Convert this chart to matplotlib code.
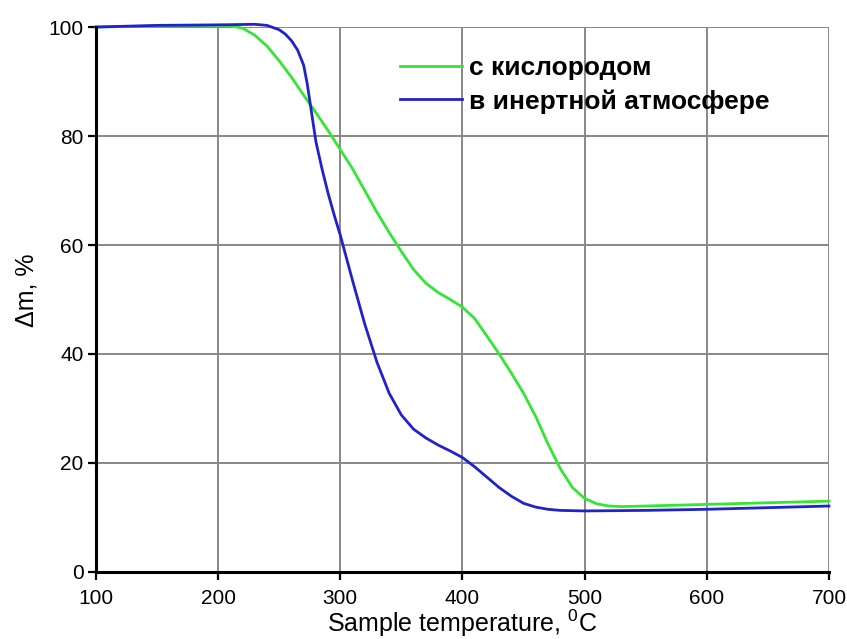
import matplotlib
matplotlib.use("Agg")
import matplotlib.pyplot as plt

plt.rcParams['font.family'] = ['Liberation Sans', 'DejaVu Sans']

# Green: with oxygen
x_ox = [100, 150, 200, 210, 220, 230, 240, 250, 260, 270, 280, 290, 300, 310, 320,
        330, 340, 350, 360, 370, 380, 390, 400, 410, 420, 430, 440, 450, 460, 470,
        480, 490, 500, 510, 520, 530, 550, 600, 650, 700]
y_ox = [100.0, 100.2, 100.3, 100.2, 99.8, 98.5, 96.5, 93.8, 90.8, 87.5, 84.3, 81.0,
        77.5, 74.0, 70.0, 66.0, 62.3, 58.8, 55.5, 53.0, 51.3, 50.0, 48.6, 46.5, 43.3,
        40.0, 36.5, 32.8, 28.5, 23.5, 19.0, 15.5, 13.5, 12.5, 12.1, 12.0, 12.1, 12.4,
        12.7, 13.0]

# Blue: inert atmosphere
x_in = [100, 150, 200, 230, 240, 250, 255, 260, 265, 270, 273, 276, 280, 285, 290,
        295, 300, 310, 320, 330, 340, 350, 360, 370, 380, 390, 400, 410, 420, 430,
        440, 450, 460, 470, 480, 500, 550, 600, 650, 700]
y_in = [100.0, 100.3, 100.4, 100.5, 100.3, 99.5, 98.7, 97.5, 95.8, 93.0, 89.5, 85.0,
        79.0, 74.0, 69.5, 65.5, 61.8, 53.5, 45.5, 38.5, 32.8, 28.8, 26.2, 24.6, 23.3,
        22.2, 21.0, 19.3, 17.4, 15.5, 13.9, 12.6, 11.9, 11.5, 11.3, 11.2, 11.3, 11.5,
        11.8, 12.1]

labels = ['с кислородом', 'в инертной атмосфере']
x_ticks = [100, 200, 300, 400, 500, 600, 700]
y_ticks = [0, 20, 40, 60, 80, 100]

fig = plt.figure(figsize=(8.47, 6.39), dpi=100)
ax = fig.add_axes([0.1133, 0.1049, 0.8654, 0.8528])

ax.plot(x_ox, y_ox, color='#33e633', lw=2.0, label=labels[0], zorder=3, clip_on=False)
ax.plot(x_in, y_in, color='#2222cc', lw=2.0, label=labels[1], zorder=3, clip_on=False)

ax.set_xlim(100, 700)
ax.set_ylim(0, 100)
ax.set_xticks(x_ticks)
ax.set_yticks(y_ticks)
ax.grid(True, color='#888888', lw=1.4)
ax.set_axisbelow(True)
for s in ['top', 'right']:
    ax.spines[s].set_visible(False)
for s in ['left', 'bottom']:
    ax.spines[s].set_linewidth(2.2)
    ax.spines[s].set_zorder(4)
ax.tick_params(axis='both', direction='out', length=6, width=1.6, labelsize=15, pad=3,
               colors='black')
ax.tick_params(axis='x', pad=6)

ax.set_xlabel('Sample temperature, $^{\\mathregular{0}}$C', fontsize=18,
              va='bottom')
ax.xaxis.set_label_coords(0.5, -0.123)
ax.set_ylabel('Δm, %', fontsize=18)
ax.yaxis.set_label_coords(-0.078, 0.517)

leg = ax.legend(loc='upper left', bbox_to_anchor=(0.415, 0.947), frameon=False,
                borderpad=0, borderaxespad=0,
                handlelength=2.35, handletextpad=0.25, labelspacing=0.35,
                prop={'weight': 'bold', 'size': 19})

fig.savefig('out.png', dpi=100)
